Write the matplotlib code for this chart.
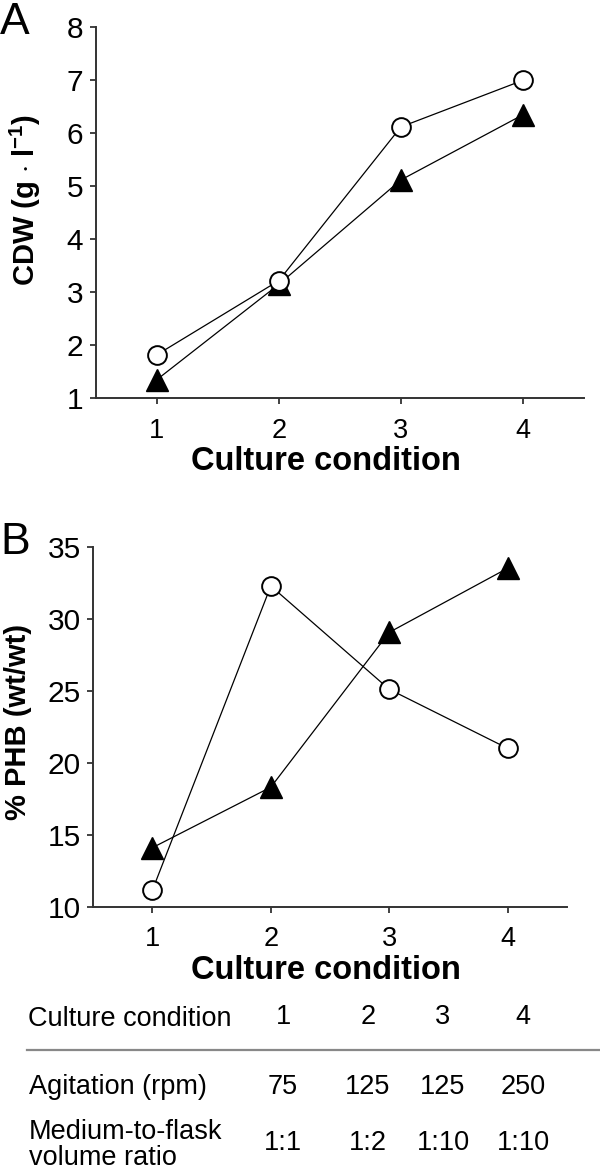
"""
CDW and PHB content for four shake-flask culture conditions
"""
import matplotlib
matplotlib.use('Agg')
import matplotlib.pyplot as plt
from matplotlib.lines import Line2D

# ============================================================================
# DATA
# ============================================================================
conditions = [1, 2, 3, 4]

cdw_circle = [1.82, 3.22, 6.12, 7.0]
cdw_triangle = [1.35, 3.15, 5.12, 6.35]

phb_circle = [11.16, 32.27, 25.1, 21.0]
phb_triangle = [14.1, 18.3, 29.05, 33.5]

table_header = 'Culture condition'
table_rows = ['Agitation (rpm)', 'Medium-to-flask\nvolume ratio']
agitation = ['75', '125', '125', '250']
volume_ratio = ['1:1', '1:2', '1:10', '1:10']

plt.rcParams['font.family'] = ['Liberation Sans', 'DejaVu Sans']
plt.rcParams['mathtext.fontset'] = 'custom'
plt.rcParams['mathtext.rm'] = 'Liberation Sans'
plt.rcParams['mathtext.bf'] = 'Liberation Sans:bold'

W, H = 600, 1169
fig = plt.figure(figsize=(W / 100, H / 100), dpi=100)


def fx(px):
    return px / W


def fy(py):
    return 1 - py / H


def make_axes(left, right, top, bottom):
    return fig.add_axes([fx(left), fy(bottom), (right - left) / W, (bottom - top) / H])


def style_axes(ax, ylim, yticks, ylabel, px_box):
    left, right, top, bottom = px_box
    ax.set_xlim(0.5, 4.5)
    ax.set_ylim(*ylim)
    ax.set_xticks(conditions)
    ax.set_yticks(yticks)
    for s in ['top', 'right']:
        ax.spines[s].set_visible(False)
    for s in ['left', 'bottom']:
        ax.spines[s].set_linewidth(1.4)
        ax.spines[s].set_color('#333333')
    ax.tick_params(direction='out', length=4, width=1.3, color='#333333')
    ax.tick_params(axis='y', labelsize=21.5, pad=5)
    ax.tick_params(axis='x', labelsize=19.5, pad=10)
    ax.set_xlabel('Culture condition', fontsize=23.5, fontweight='bold', va='top')
    ax.set_ylabel(ylabel, fontsize=21, fontweight='bold')
    # x label sits ~48 px under the axis, centred at x = 326 px
    ax.xaxis.set_label_coords((326 - left) / (right - left),
                              -48 / (bottom - top))
    return ax


def plot_pair(ax, circ, tri):
    ax.plot(conditions, tri, '-', color='black', lw=0.9, marker='^',
            ms=15.5, mfc='black', mec='black', zorder=2, clip_on=False)
    ax.plot(conditions, circ, '-', color='black', lw=0.9, marker='o',
            ms=13.5, mfc='white', mec='black', mew=1.4, zorder=3, clip_on=False)


# Panel A
box_a = (95.7, 584, 27.3, 398.3)
ax1 = make_axes(*box_a)
plot_pair(ax1, cdw_circle, cdw_triangle)
style_axes(ax1, (1, 8), range(1, 9), r'CDW (g $\cdot$ l$^{\mathbf{-1}}$)', box_a)
ax1.yaxis.set_label_coords((43 - 95.7) / (584 - 95.7), 0.535)

# Panel B
box_b = (93.3, 566.7, 546.7, 906.7)
ax2 = make_axes(*box_b)
plot_pair(ax2, phb_circle, phb_triangle)
style_axes(ax2, (10, 35), range(10, 36, 5), '% PHB (wt/wt)', box_b)
ax2.yaxis.set_label_coords((32 - 93.3) / (566.7 - 93.3), 0.514)

fig.text(fx(0), fy(2), 'A', fontsize=32, va='top', ha='left')
fig.text(fx(0), fy(522), 'B', fontsize=32, va='top', ha='left')

# Table of culture conditions
col_x = [283, 368, 443, 523]
fs = 19.5
fig.text(fx(28), fy(1019), table_header, fontsize=fs, va='center', ha='left')
for x, c in zip(col_x, conditions):
    fig.text(fx(x), fy(1017), str(c), fontsize=fs, va='center', ha='center')

fig.add_artist(Line2D([fx(27), fx(600)], [fy(1050), fy(1050)],
                      color='#888888', lw=1.6))

fig.text(fx(29), fy(1087), table_rows[0], fontsize=fs, va='center', ha='left')
for x, v in zip(col_x, agitation):
    fig.text(fx(x), fy(1087), v, fontsize=fs, va='center', ha='center')

fig.text(fx(29), fy(1145), table_rows[1], fontsize=fs, va='center', ha='left',
         linespacing=1.0)
for x, v in zip(col_x, volume_ratio):
    fig.text(fx(x), fy(1143), v, fontsize=fs, va='center', ha='center')

fig.savefig('out.png', dpi=100)
